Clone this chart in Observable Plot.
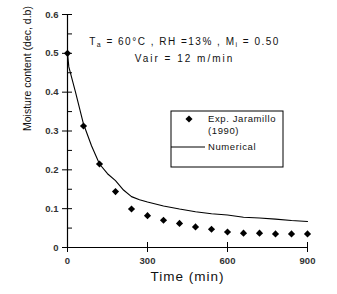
<!DOCTYPE html>
<html><head><meta charset="utf-8">
<script src="https://cdn.jsdelivr.net/npm/d3@7"></script>
<script src="https://cdn.jsdelivr.net/npm/@observablehq/plot@0.6"></script>
<style>body{margin:0;background:#fff}svg{display:block}</style>
</head><body><div id="chart"></div>
<script>
const expTime = [0,60,120,180,240,300,360,420,480,540,600,660,720,780,840,900];
const expMoisture = [0.50,0.313,0.215,0.144,0.099,0.082,0.070,0.062,0.053,0.047,0.040,0.037,0.037,0.035,0.035,0.035];
const numTime = [0,5,30,60,90,120,150,180,210,240,270,300,360,420,480,540,600,660,720,780,840,900];
const numMoisture = [0.5,0.465,0.40,0.318,0.262,0.215,0.19,0.172,0.148,0.131,0.123,0.117,0.107,0.099,0.092,0.087,0.0835,0.078,0.076,0.073,0.0695,0.067];
const xTicks = [0,300,600,900];
const yTicks = [0,0.1,0.2,0.3,0.4,0.5,0.6];
const yMinorTicks = [0.05,0.15,0.25,0.35,0.45,0.55];
const annotLine1 = "Ta = 60°C , RH =13% , Mi = 0.50";
const annotLine2 = "Vair = 12 m/min";
const xLabel = "Time (min)";
const yLabel = "Moisture content (dec, d.b)";
const legendExp = ["Exp. Jaramillo", "(1990)"];
const legendNum = "Numerical";

const expData = expTime.map((t,i)=>({t, m: expMoisture[i]}));
const numData = numTime.map((t,i)=>({t, m: numMoisture[i]}));

const font = "'Liberation Sans', Arial, sans-serif";
const plot = Plot.plot({
  width: 337, height: 294,
  marginLeft: 67, marginRight: 30, marginTop: 14, marginBottom: 47,
  style: {fontFamily: font, background: "#fff", color: "#000"},
  x: {domain: [0, 900]},
  y: {domain: [0, 0.6]},
  marks: [
    Plot.axisY(yTicks, {tickSize: 10, dx: 5, fill: "none", label: null}),
    Plot.axisY(yMinorTicks, {tickSize: 5, dx: 5, fill: "none", label: null}),
    Plot.axisY(yTicks, {tickSize: 0, tickPadding: 9, tickFormat: d => d === 0 ? "0" : d.toFixed(1), label: null, fontSize: 9.5, fontWeight: "bold", fill: "#333"}),
    Plot.axisX(xTicks, {tickSize: 10, dy: -5, fill: "none", label: null}),
    Plot.axisX(xTicks, {tickSize: 0, tickPadding: 10, tickFormat: d => String(d), label: null, fontSize: 9.5, fontWeight: "bold", fill: "#333"}),
    Plot.ruleX([0], {strokeWidth: 1.2}),
    Plot.ruleY([0], {strokeWidth: 1.2}),
    Plot.line(numData, {x: "t", y: "m", stroke: "#000", strokeWidth: 1.1}),
    Plot.dot(expData, {x: "t", y: "m", symbol: "diamond2", r: 3.2, fill: "#000", stroke: "none"}),
    Plot.text([annotLine1], {frameAnchor: "top", dx: -3, dy: 23, text: d => d, fontSize: 10, fill: "#111"}),
    Plot.text([annotLine2], {frameAnchor: "top", dx: -3, dy: 40, text: d => d, fontSize: 10, fill: "#111"}),
    Plot.text([xLabel], {frameAnchor: "bottom", dy: 33, text: d => d, fontSize: 13.5, fill: "#111"}),
    Plot.text([yLabel], {frameAnchor: "left", dx: -40, rotate: -90, text: d => d, fontSize: 10.5, fill: "#111"})
  ]
});
document.getElementById("chart").appendChild(plot);
const svg = d3.select(plot);
svg.selectAll("text").each(function() {
  const t = d3.select(this);
  const s = t.text();
  if (s === annotLine1) {
    t.text(null).style("letter-spacing", "1.5px");
    t.append("tspan").text("T");
    t.append("tspan").text("a").attr("font-size", 7).attr("baseline-shift", "-2");
    t.append("tspan").text(" = 60°C , RH =13% , M");
    t.append("tspan").text("i").attr("font-size", 7).attr("baseline-shift", "-2");
    t.append("tspan").text(" = 0.50");
  } else if (s === annotLine2) {
    t.style("letter-spacing", "2px");
  } else if (s === xLabel) {
    t.style("letter-spacing", "1px");
  }
});
// legend
const g = svg.append("g").attr("font-family", font).attr("font-size", 9.5).attr("fill", "#111").attr("text-anchor", "start");
g.append("rect").attr("x", 171).attr("y", 111).attr("width", 112).attr("height", 56)
  .attr("fill", "#fff").attr("stroke", "#000").attr("stroke-width", 1);
g.append("path").attr("d", d3.symbol(d3.symbolDiamond2, 32)()).attr("transform", "translate(189,119)").attr("fill", "#000");
g.append("text").attr("x", 208).attr("y", 122).attr("text-anchor", "start").style("letter-spacing", "0.6px").text(legendExp[0]);
g.append("text").attr("x", 208).attr("y", 134).attr("text-anchor", "start").style("letter-spacing", "0.6px").text(legendExp[1]);
g.append("line").attr("x1", 171).attr("x2", 205).attr("y1", 147).attr("y2", 147).attr("stroke", "#000");
g.append("text").attr("x", 208).attr("y", 150).attr("text-anchor", "start").style("letter-spacing", "0.6px").text(legendNum);
</script></body></html>
